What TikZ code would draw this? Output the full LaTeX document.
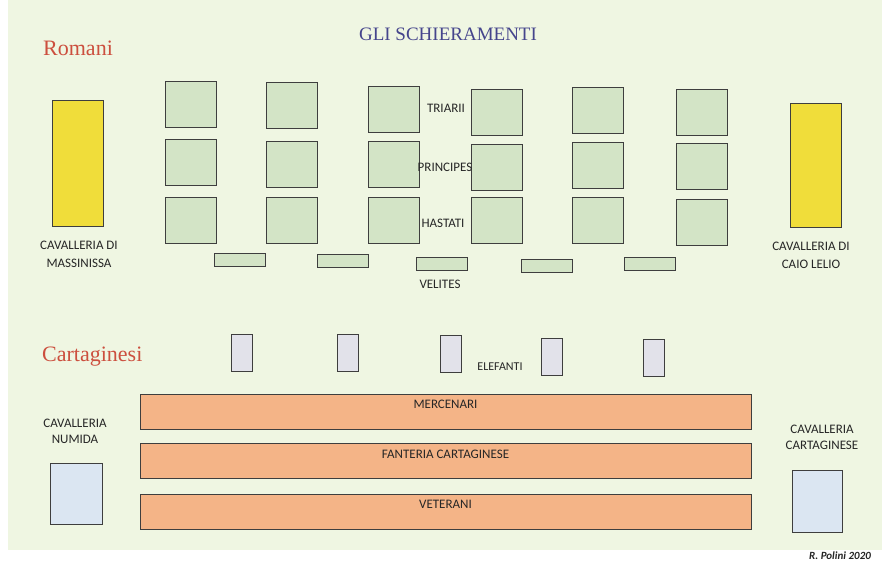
\documentclass[tikz,border=0pt]{standalone}
\usepackage{fontspec}
\setmainfont{Liberation Serif}
\newfontfamily\calibri{Carlito}
\definecolor{sfondo}{HTML}{EFF6E2}
\definecolor{verdino}{HTML}{D3E4C6}
\definecolor{giallo}{HTML}{F0DD3A}
\definecolor{azzurrino}{HTML}{DBE6F2}
\definecolor{grigino}{HTML}{E2E2EA}
\definecolor{arancio}{HTML}{F4B487}
\definecolor{rosso}{HTML}{CC4F3E}
\definecolor{bluscuro}{HTML}{45458C}
\definecolor{bordo}{HTML}{3E3E3E}
\definecolor{scritta}{HTML}{262626}
\begin{document}
\begin{tikzpicture}[x=1pt,y=-1pt,
  unita/.style={draw=bordo, line width=0.9pt, fill=verdino, minimum width=51pt, minimum height=46pt, inner sep=0pt},
  velite/.style={unita, minimum height=13pt},
  elefante/.style={draw=bordo, line width=0.9pt, fill=grigino, minimum width=21pt, minimum height=37pt, inner sep=0pt},
  cavallo/.style={draw=bordo, line width=0.9pt, inner sep=0pt, minimum width=51pt},
  fila/.style={draw=bordo, line width=0.9pt, fill=arancio, minimum width=611pt, minimum height=35pt, inner sep=0pt,
    font=\calibri\fontsize{13}{15}\selectfont, text=scritta, text height=6.5pt, text depth=12pt},
  etichetta/.style={font=\calibri\fontsize{13}{18}\selectfont, text=scritta, align=center, inner sep=0pt},
  popolo/.style={font=\fontsize{22}{24}\selectfont, text=rosso, anchor=west, inner sep=0pt}]
\useasboundingbox (0,0) rectangle (882,562);
\fill[white] (0,0) rectangle (882,562);
\fill[sfondo] (8,0) rectangle (882,550);

\node[font=\fontsize{19}{22}\selectfont, text=bluscuro] (titolo) at (448,34) {GLI SCHIERAMENTI};
\node[popolo] (romani) at (43,48) {Romani};
\node[popolo] (cartaginesi) at (42,357) {Cartaginesi};

% romani
\node[cavallo, fill=giallo, minimum height=126pt] (massinissa) at (77.5,163) {};
\node[cavallo, fill=giallo, minimum height=124pt] (lelio) at (815.5,165) {};
\node[etichetta] (lmassinissa) at (79,254) {CAVALLERIA DI\\MASSINISSA};
\node[etichetta] (llelio) at (811,255) {CAVALLERIA DI\\CAIO LELIO};

\node[unita] (t1) at (191,104) {};
\node[unita] (t2) at (291.5,105.5) {};
\node[unita] (t3) at (393.5,109) {};
\node[unita] (t4) at (496.5,112) {};
\node[unita] (t5) at (597.5,110.5) {};
\node[unita] (t6) at (702,112.5) {};
\node[unita] (p1) at (191,162) {};
\node[unita] (p2) at (291.5,164.5) {};
\node[unita] (p3) at (393.5,164.5) {};
\node[unita] (p4) at (496.5,167) {};
\node[unita] (p5) at (597.5,165) {};
\node[unita] (p6) at (702,166) {};
\node[unita] (h1) at (191,220) {};
\node[unita] (h2) at (291.5,220.5) {};
\node[unita] (h3) at (393.5,220) {};
\node[unita] (h4) at (496.5,220.5) {};
\node[unita] (h5) at (597.5,220.5) {};
\node[unita] (h6) at (702,222.5) {};
\node[velite] (v1) at (239.5,259.5) {};
\node[velite] (v2) at (342.5,261) {};
\node[velite] (v3) at (442,263.5) {};
\node[velite] (v4) at (547,265.5) {};
\node[velite] (v5) at (649.5,263.5) {};

\node[etichetta] (ltriarii) at (446,108) {TRIARII};
\node[etichetta] (lprincipes) at (445,167) {PRINCIPES};
\node[etichetta] (lhastati) at (443,223) {HASTATI};
\node[etichetta] (lvelites) at (440,284) {VELITES};

% cartaginesi
\node[elefante] (e1) at (241.5,352.5) {};
\node[elefante] (e2) at (348,352.5) {};
\node[elefante] (e3) at (451,353.5) {};
\node[elefante] (e4) at (552,356.5) {};
\node[elefante] (e5) at (653.5,357.5) {};
\node[etichetta, font=\calibri\fontsize{12}{14}\selectfont] (lelefanti) at (500,367) {ELEFANTI};

\node[fila] (mercenari) at (445.5,411.5) {MERCENARI};
\node[fila] (fanteria) at (445.5,461) {FANTERIA CARTAGINESE};
\node[fila] (veterani) at (445.5,511.5) {VETERANI};

\node[cavallo, fill=azzurrino, minimum width=52pt, minimum height=61pt] (numida) at (76,493.5) {};
\node[cavallo, fill=azzurrino, minimum width=50pt, minimum height=62pt] (punica) at (817,501) {};
\node[etichetta, font=\calibri\fontsize{13}{16}\selectfont] (lnumida) at (75,431) {CAVALLERIA\\NUMIDA};
\node[etichetta, font=\calibri\fontsize{13}{16}\selectfont] (lpunica) at (822,437) {CAVALLERIA\\CARTAGINESE};

\node[font=\calibri\fontsize{11}{12}\selectfont\bfseries\itshape, text=scritta] (firma) at (840,556) {R. Polini 2020};
\end{tikzpicture}
\end{document}
